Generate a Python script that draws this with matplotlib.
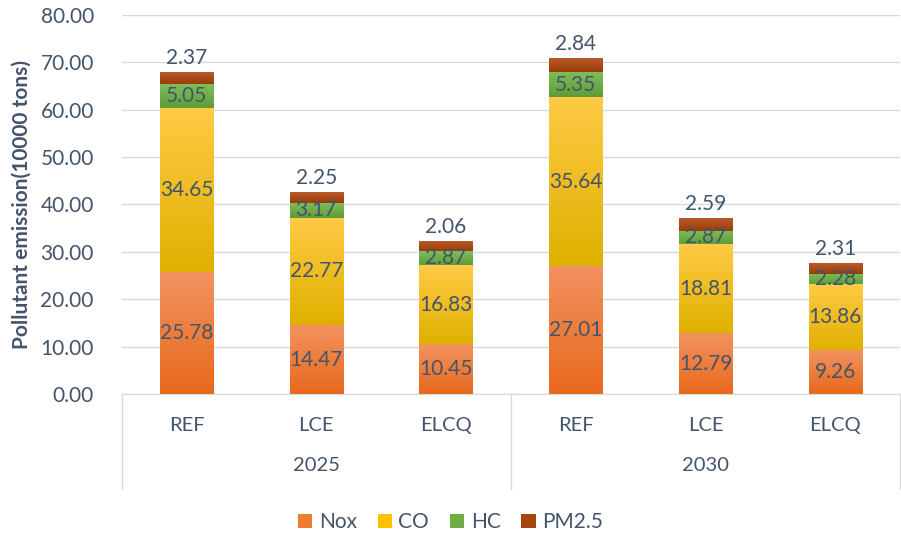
import numpy as np
import matplotlib.pyplot as plt
from matplotlib.colors import LinearSegmentedColormap
from matplotlib.patches import Patch

plt.rcParams['font.family'] = ['Lato', 'DejaVu Sans']

years = ['2025', '2030']
scenarios = ['REF', 'LCE', 'ELCQ', 'REF', 'LCE', 'ELCQ']
nox = [25.78, 14.47, 10.45, 27.01, 12.79, 9.26]
co = [34.65, 22.77, 16.83, 35.64, 18.81, 13.86]
hc = [5.05, 3.17, 2.87, 5.35, 2.87, 2.28]
pm25 = [2.37, 2.25, 2.06, 2.84, 2.59, 2.31]

series = [('Nox', nox), ('CO', co), ('HC', hc), ('PM2.5', pm25)]
# (top colour, bottom colour) for the Excel-like gradient fills
grads = {
    'Nox': ('#F2925F', '#E8691C'),
    'CO': ('#FFCA45', '#E0B000'),
    'HC': ('#80BE5C', '#5E9C38'),
    'PM2.5': ('#B95A2C', '#993D08'),
}
solid = {'Nox': '#ED7D31', 'CO': '#FFC000', 'HC': '#70AD47', 'PM2.5': '#A5460F'}
txt = '#44546A'

fig = plt.figure(figsize=(9.01, 5.35), dpi=100)
ax = fig.add_axes([0.135, 0.2636, 0.864, 0.7084])

x = np.arange(len(scenarios))
w = 0.41
grad = np.linspace(0, 1, 64).reshape(-1, 1)

bottom = np.zeros(len(scenarios))
for name, vals in series:
    cmap = LinearSegmentedColormap.from_list(name, [grads[name][1], grads[name][0]])
    for i, v in enumerate(vals):
        ax.imshow(grad, cmap=cmap, origin='lower', aspect='auto',
                  extent=[x[i] - w / 2, x[i] + w / 2, bottom[i], bottom[i] + v],
                  zorder=2, interpolation='bilinear')
        if name == 'PM2.5':
            ax.annotate(f'{v:.2f}', (x[i], bottom[i] + v), xytext=(0, 3),
                        textcoords='offset points', ha='center', va='bottom',
                        fontsize=15, color=txt)
        else:
            ax.text(x[i], bottom[i] + v / 2, f'{v:.2f}', ha='center', va='center',
                    fontsize=15, color=txt, zorder=3)
    bottom += np.array(vals)

ax.set_xlim(-0.5, len(scenarios) - 0.5)
ax.set_ylim(0, 80)
ax.set_yticks(np.arange(0, 81, 10))
ax.set_yticklabels([f'{t:.2f}' for t in np.arange(0, 81, 10)], fontsize=15, color=txt)
ax.tick_params(axis='y', length=0, pad=20)
ax.set_xticks([])
ax.grid(axis='y', color='#D9D9D9', linewidth=1, zorder=0)
ax.set_axisbelow(True)
for s in ['top', 'right', 'left']:
    ax.spines[s].set_visible(False)
ax.spines['bottom'].set_color('#D9D9D9')
ax.set_ylabel('Pollutant emission(10000 tons)', fontsize=15, fontweight='bold',
              color=txt, labelpad=6)

# two-level category axis
trans = ax.get_xaxis_transform()
for xb in [-0.5, 2.5, 5.5]:
    ax.plot([xb, xb], [0, -0.25], transform=trans, color='#D9D9D9', lw=1, clip_on=False)
for i, s in enumerate(scenarios):
    ax.text(x[i], -0.083, s, transform=trans, ha='center', va='center', fontsize=14.5, color=txt)
for j, y in enumerate(years):
    ax.text(1 + 3 * j, -0.19, y, transform=trans, ha='center', va='center', fontsize=14.5, color=txt)

handles = [Patch(facecolor=solid[n], label=n) for n, _ in series]
fig.legend(handles=handles, loc='lower center', bbox_to_anchor=(0.5, -0.03), ncol=4,
           frameon=False, fontsize=15, labelcolor=txt, handlelength=0.7, handleheight=0.7,
           handletextpad=0.3, columnspacing=1.0)

fig.savefig('out.png', dpi=100)
